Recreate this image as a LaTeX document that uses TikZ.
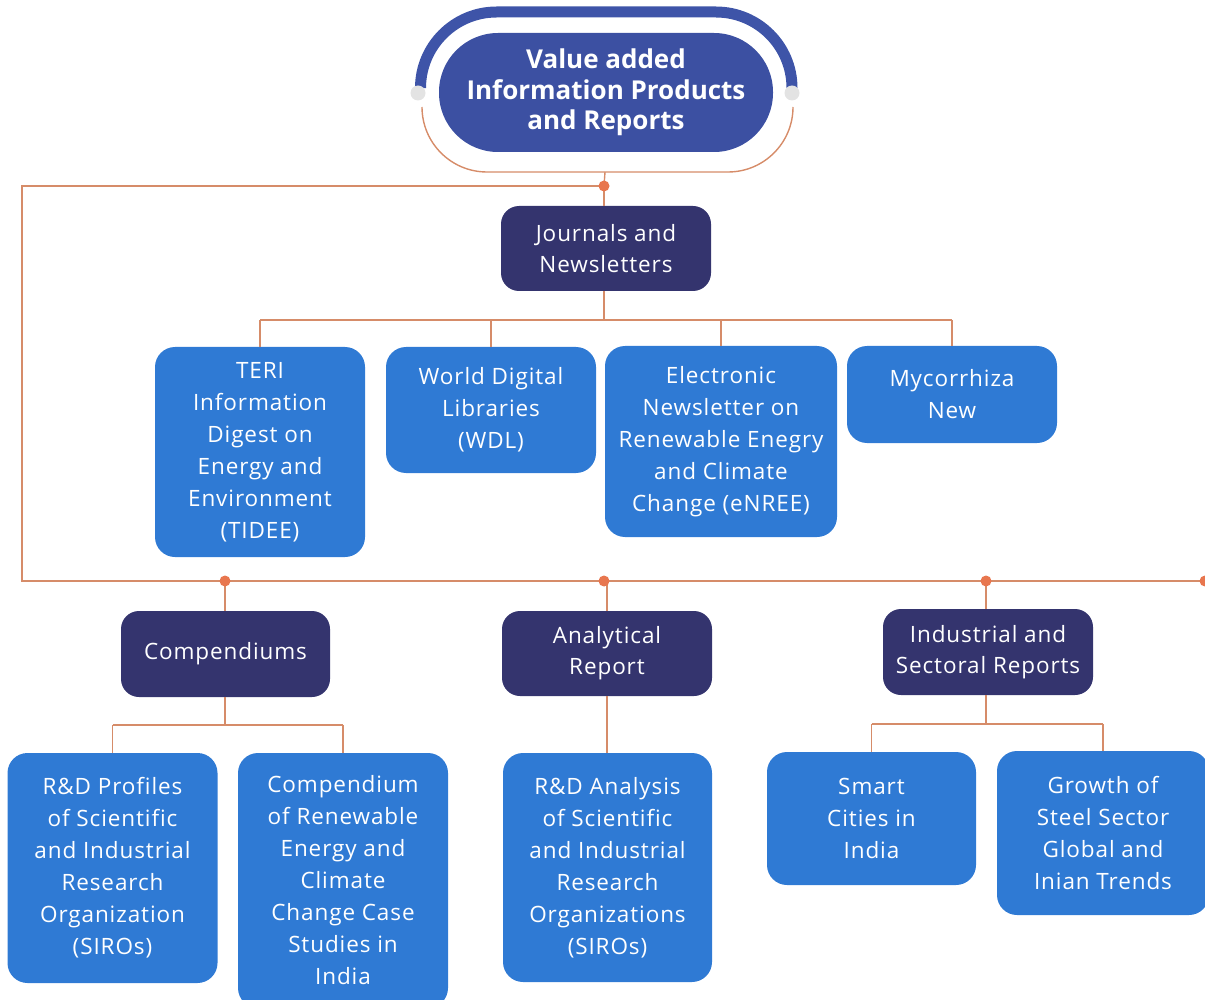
\documentclass[tikz,border=0pt]{standalone}
\usepackage{fontspec}
\setmainfont{Open Sans}[Ligatures=NoCommon]
\newfontfamily\boxfont{Open Sans}[Ligatures=NoCommon, LetterSpace=4]
\definecolor{boxblue}{RGB}{47,122,212}
\definecolor{navy}{RGB}{52,52,110}
\definecolor{titleblue}{RGB}{60,80,162}
\definecolor{arcblue}{RGB}{62,84,168}
\definecolor{linecol}{RGB}{214,140,105}
\definecolor{dotcol}{RGB}{232,118,78}
\begin{document}
\begin{tikzpicture}[x=1pt,y=1pt,
  bluebox/.style={rectangle, rounded corners=20pt, fill=boxblue, text=white, align=center, inner sep=0pt, font=\boxfont\fontsize{22.5}{32}\selectfont},
  navybox/.style={rectangle, rounded corners=18pt, fill=navy, text=white, align=center, inner sep=0pt, font=\boxfont\fontsize{22.5}{31}\selectfont},
  conn/.style={draw=linecol, line width=1.4pt},
  dotst/.style={circle, fill=dotcol, inner sep=0pt, minimum size=11pt},
  graydot/.style={circle, fill=gray!22, inner sep=0pt, minimum size=15pt}]
\useasboundingbox (0,0) rectangle (1205,-1000);

% title ornament
\draw[arcblue, line width=11pt] (420.5,-88) arc[start angle=180, end angle=90, radius=76] -- (716,-12) arc[start angle=90, end angle=0, radius=76];
\draw[conn] (422,-107) arc[start angle=180, end angle=270, radius=65] -- (728,-172) arc[start angle=270, end angle=360, radius=65];
\coordinate (stbot) at (605,-172);
\node[graydot] (gl) at (418,-93) {};
\node[graydot] (gr) at (792,-93) {};
\node[rectangle, rounded corners=59pt, fill=titleblue, text=white, align=center, inner sep=0pt,
      minimum width=334pt, minimum height=119pt, font=\fontsize{26}{30.5}\selectfont\bfseries] (title) at (606,-92.5)
      {Value added\\Information Products\\and Reports};

% level nodes
\node[navybox, minimum width=210pt, minimum height=85pt] (jour) at (606,-248.5) {Journals and\\Newsletters};
\node[navybox, minimum width=209pt, minimum height=86pt] (comp) at (225.5,-654) {Compendiums};
\node[navybox, minimum width=210pt, minimum height=85pt] (anal) at (607,-653.5) {Analytical\\Report};
\node[navybox, minimum width=210pt, minimum height=86pt] (indu) at (988,-652) {Industrial and\\Sectoral Reports};

% journal children
\node[bluebox, minimum width=210pt, minimum height=210pt] (tidee) at (260,-452) {TERI\\Information\\Digest on\\Energy and\\Environment\\(TIDEE)};
\node[bluebox, minimum width=210pt, minimum height=126pt] (wdl) at (491,-410) {World Digital\\Libraries\\(WDL)};
\node[bluebox, minimum width=232pt, minimum height=191pt] (enree) at (721,-441.5) {Electronic\\Newsletter on\\Renewable Enegry\\and Climate\\Change (eNREE)};
\node[bluebox, minimum width=210pt, minimum height=97pt] (myc) at (952,-394.5) {Mycorrhiza\\New};

% bottom
\node[bluebox, minimum width=210pt, minimum height=230pt] (rdp) at (112.5,-868) {R\&D Profiles\\of Scientific\\and Industrial\\Research\\Organization\\(SIROs)};
\node[bluebox, minimum width=210pt, minimum height=255pt] (crn) at (343,-880.5) {Compendium\\of Renewable\\Energy and\\Climate\\Change Case\\Studies in\\India};
\node[bluebox, minimum width=209pt, minimum height=229pt] (rda) at (607.5,-867.5) {R\&D Analysis\\of Scientific\\and Industrial\\Research\\Organizations\\(SIROs)};
\node[bluebox, minimum width=209pt, minimum height=133pt] (smart) at (871.5,-818.5) {Smart\\Cities in\\India};
\node[bluebox, minimum width=212pt, minimum height=164pt] (grow) at (1103,-833) {Growth of\\Steel Sector\\Global and\\Inian Trends};

% bus coordinates
\coordinate (tdot) at (604,-186);
\coordinate (tl) at (22,-186);
\coordinate (bl) at (22,-581);
\coordinate (br) at (1210,-581);
\coordinate (jb) at (604,-320);
\coordinate (cb) at (225,-725);
\coordinate (ib) at (986,-724);

% connectors
\draw[conn] (stbot) -- (tdot);
\draw[conn] (tdot) -- (tl) -- (bl) -- (br);
\draw[conn] (tdot) -- (jour.north -| tdot);
\draw[conn] (jour.south -| jb) -- (jb);
\draw[conn] (tidee.north |- jb) -- (myc.north |- jb);
\foreach \n in {tidee,wdl,enree,myc}{\draw[conn] (\n.north |- jb) -- (\n.north);}
\draw[conn] (comp.north -| cb) -- (cb |- bl);
\draw[conn] (comp.south -| cb) -- (cb);
\draw[conn] (rdp.north |- cb) -- (crn.north |- cb);
\foreach \n in {rdp,crn}{\draw[conn] (\n.north |- cb) -- (\n.north);}
\draw[conn] (anal.north) -- (anal.north |- bl);
\draw[conn] (anal.south) -- (rda.north -| anal.south);
\draw[conn] (indu.north -| ib) -- (ib |- bl);
\draw[conn] (indu.south -| ib) -- (ib);
\draw[conn] (smart.north |- ib) -- (grow.north |- ib);
\foreach \n in {smart,grow}{\draw[conn] (\n.north |- ib) -- (\n.north);}

% dots
\node[dotst] (d0) at (tdot) {};
\node[dotst] (d1) at (225,-581) {};
\node[dotst] (d2) at (604,-581) {};
\node[dotst] (d3) at (986,-581) {};
\node[dotst] (d4) at (1205,-581) {};
\end{tikzpicture}
\end{document}
